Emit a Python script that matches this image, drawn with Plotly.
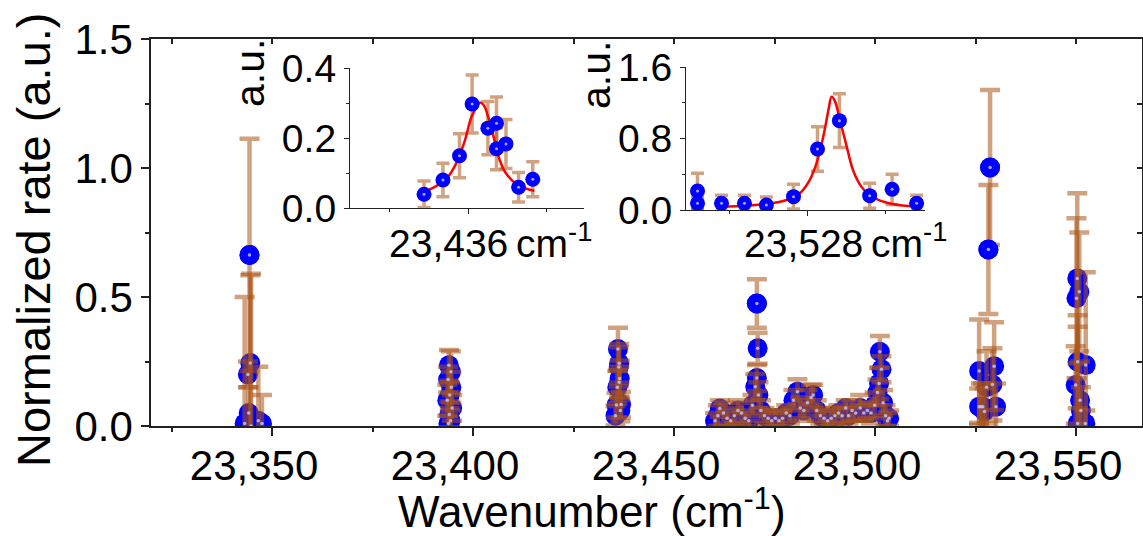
import plotly.graph_objects as go

# ---------------- data ----------------
# main panel clusters: wavenumber (cm-1), normalized rate, error
A_x = [23344.4, 23344.6, 23344.0, 23343.2, 23344.8, 23346.6, 23347.5, 23344.2]
A_y = [0.663, 0.244, 0.20, 0.01, 0.0, 0.02, 0.01, 0.05]
A_e = [0.45, 0.34, 0.05, 0.49, 0.59, 0.21, 0.11, 0.10]

B_x = [23394.0, 23394.5, 23393.8, 23394.6, 23394.2, 23393.6, 23394.8, 23394.1, 23394.4, 23393.9]
B_y = [0.235, 0.21, 0.18, 0.15, 0.12, 0.10, 0.07, 0.045, 0.02, 0.01]
B_e = [0.06, 0.08, 0.05, 0.06, 0.05, 0.06, 0.05, 0.05, 0.04, 0.03]

D_x = [23460.2, 23460.9, 23461.4, 23462.3, 23463.2, 23464.1, 23465.0, 23465.9, 23466.8,
       23467.7, 23468.6, 23469.5, 23470.2, 23470.6, 23470.8, 23470.6, 23471.0, 23471.6,
       23472.5, 23473.4, 23474.3, 23475.2, 23476.1, 23477.0, 23477.9, 23478.8, 23479.7,
       23480.7, 23481.4, 23482.3, 23483.2, 23484.1, 23484.6, 23485.5, 23486.4, 23487.3,
       23488.2, 23489.1, 23490.0, 23490.9, 23491.8, 23492.7, 23493.4, 23494.3, 23495.2,
       23496.3, 23497.2, 23498.1, 23499.0, 23499.9, 23500.6, 23501.0, 23501.2, 23501.6,
       23502.0, 23502.6, 23503.1, 23503.5]
D_y = [0.02, 0.04, 0.068, 0.05, 0.03, 0.02, 0.04, 0.06, 0.05,
       0.03, 0.02, 0.08, 0.152, 0.186, 0.301, 0.475, 0.12, 0.06,
       0.04, 0.03, 0.02, 0.03, 0.02, 0.03, 0.05, 0.04, 0.10,
       0.133, 0.07, 0.06, 0.09, 0.11, 0.12, 0.06, 0.04, 0.03,
       0.02, 0.03, 0.04, 0.05, 0.04, 0.07, 0.04, 0.06, 0.05,
       0.07, 0.05, 0.06, 0.05, 0.08, 0.13, 0.165, 0.288, 0.22,
       0.09, 0.04, 0.02, 0.03]
D_e = [0.03, 0.04, 0.032, 0.04, 0.03, 0.03, 0.03, 0.04, 0.04,
       0.03, 0.03, 0.04, 0.05, 0.05, 0.06, 0.094, 0.05, 0.04,
       0.03, 0.03, 0.03, 0.03, 0.03, 0.03, 0.03, 0.03, 0.04,
       0.048, 0.04, 0.04, 0.05, 0.05, 0.04, 0.04, 0.03, 0.03,
       0.03, 0.03, 0.03, 0.03, 0.03, 0.03, 0.03, 0.04, 0.03,
       0.05, 0.03, 0.03, 0.04, 0.05, 0.05, 0.06, 0.061, 0.05,
       0.05, 0.04, 0.03, 0.03]

F_x = [23550.3, 23550.1, 23550.8, 23550.4, 23552.4, 23549.9, 23551.0, 23550.4, 23552.3, 23551.2]
F_y = [0.572, 0.495, 0.52, 0.249, 0.236, 0.159, 0.10, 0.01, 0.01, 0.06]
F_e = [0.33, 0.31, 0.23, 0.18, 0.36, 0.15, 0.15, 0.375, 0.05, 0.09]

# inset 1 (23,436 cm-1 line)
I1_x = [23435.44, 23435.68, 23435.89, 23436.05, 23436.25, 23436.36, 23436.36, 23436.48, 23436.64, 23436.82]
I1_y = [0.040, 0.081, 0.150, 0.298, 0.229, 0.243, 0.170, 0.184, 0.060, 0.083]
I1_e = [0.038, 0.048, 0.063, 0.083, 0.076, 0.075, 0.060, 0.070, 0.042, 0.050]
FIT1_x = [23435.47, 23435.60, 23435.73, 23435.85, 23435.96, 23436.04, 23436.11, 23436.15,
          23436.20, 23436.25, 23436.32, 23436.40, 23436.48, 23436.61, 23436.74, 23436.84]
FIT1_y = [0.050, 0.064, 0.086, 0.129, 0.195, 0.260, 0.290, 0.302,
          0.294, 0.264, 0.207, 0.138, 0.100, 0.070, 0.056, 0.050]

# inset 2 (23,528 cm-1 line)
I2_x = [23525.89, 23525.89, 23526.35, 23526.79, 23527.21, 23527.73, 23528.19, 23528.61, 23529.19, 23529.62, 23530.09]
I2_y = [0.213, 0.075, 0.075, 0.075, 0.056, 0.150, 0.684, 1.002, 0.161, 0.232, 0.075]
I2_e = [0.20, 0.07, 0.09, 0.09, 0.09, 0.14, 0.25, 0.30, 0.14, 0.17, 0.09]
FIT2_x = [23526.32, 23526.83, 23527.21, 23527.60, 23527.85, 23528.04, 23528.17, 23528.30, 23528.40,
          23528.46, 23528.52, 23528.62, 23528.75, 23528.87, 23529.03, 23529.19, 23529.39, 23529.70, 23530.12]
FIT2_y = [0.037, 0.049, 0.067, 0.112, 0.187, 0.336, 0.523, 0.822, 1.121,
          1.271, 1.226, 1.009, 0.710, 0.449, 0.262, 0.168, 0.105, 0.060, 0.037]

X_TITLE = "Wavenumber (cm<sup>-1</sup>)"
Y_TITLE = "Normalized rate (a.u.)"
INSET1_LABEL = "23,436\u2009cm<sup>-1</sup>"
INSET2_LABEL = "23,528\u2009cm<sup>-1</sup>"

# ---------------- styling ----------------
FONT = "Liberation Sans, Arial, sans-serif"
BLUE = "#0000ff"
ERR = "rgba(172,86,24,0.55)"
HIGHLIGHT = "rgba(190,195,255,0.85)"
AX = "#222222"

main_x = A_x + B_x + I1_x + D_x + I2_x + F_x
main_y = A_y + B_y + I1_y + D_y + I2_y + F_y
main_e = A_e + B_e + I1_e + D_e + I2_e + F_e

# isolated points whose symbol sits above its own error bar (as in the reference)
iso_x = [A_x[0], D_x[15], I2_x[6], I2_x[7]]
iso_y = [A_y[0], D_y[15], I2_y[6], I2_y[7]]

fig = go.Figure()


def markers(xs, ys, xa, ya, size):
    fig.add_trace(go.Scatter(x=xs, y=ys, mode="markers", xaxis=xa, yaxis=ya,
                             marker=dict(size=size, color=BLUE, line=dict(width=0)),
                             hoverinfo="skip", showlegend=False))


def highlights(xs, ys, xa, ya, size):
    fig.add_trace(go.Scatter(x=xs, y=ys, mode="markers", xaxis=xa, yaxis=ya,
                             marker=dict(size=size, color=HIGHLIGHT, line=dict(width=0)),
                             hoverinfo="skip", showlegend=False))


def errors(xs, ys, es, xa, ya, thick, capw):
    fig.add_trace(go.Scatter(x=xs, y=ys, mode="markers", xaxis=xa, yaxis=ya,
                             marker=dict(size=1, color="rgba(0,0,0,0)"),
                             error_y=dict(type="data", array=es, visible=True, color=ERR,
                                          thickness=thick, width=capw),
                             hoverinfo="skip", showlegend=False))


# main panel: symbols, then semi-transparent error bars on top, then isolated symbols
markers(main_x, main_y, "x", "y", 20)
errors(main_x, main_y, main_e, "x", "y", 4.5, 10)
markers(iso_x, iso_y, "x", "y", 20)
highlights(main_x, main_y, "x", "y", 3.5)

# inset 1
errors(I1_x, I1_y, I1_e, "x2", "y2", 3.5, 6.5)
fig.add_trace(go.Scatter(x=FIT1_x, y=FIT1_y, mode="lines", xaxis="x2", yaxis="y2",
                         line=dict(color="#ff0000", width=2.5, shape="spline"),
                         hoverinfo="skip", showlegend=False))
markers(I1_x, I1_y, "x2", "y2", 15)
highlights(I1_x, I1_y, "x2", "y2", 3)

# inset 2
errors(I2_x, I2_y, I2_e, "x3", "y3", 3.5, 6.5)
fig.add_trace(go.Scatter(x=FIT2_x, y=FIT2_y, mode="lines", xaxis="x3", yaxis="y3",
                         line=dict(color="#ff0000", width=2.5, shape="spline"),
                         hoverinfo="skip", showlegend=False))
markers(I2_x, I2_y, "x3", "y3", 15)
highlights(I2_x, I2_y, "x3", "y3", 3)

# dummy trace for the mirrored (inside-tick) frame axes
fig.add_trace(go.Scatter(x=[None], y=[None], xaxis="x4", yaxis="y4", mode="markers",
                         hoverinfo="skip", showlegend=False))

XR = [23319.9, 23566.4]
YR = [0, 1.5]

common = dict(showgrid=False, zeroline=False, showline=True, linecolor=AX, tickcolor=AX)

fig.update_layout(
    width=1143, height=536,
    margin=dict(l=151, r=1, t=39, b=110),
    paper_bgcolor="white", plot_bgcolor="rgba(0,0,0,0)",
    font=dict(family=FONT, color="black"),
    xaxis=dict(domain=[0, 1], anchor="y", range=XR, tick0=0, dtick=50, tickformat=",d",
               ticks="outside", ticklen=8, tickwidth=1.5, linewidth=1.5,
               minor=dict(dtick=25, tick0=0, ticks="outside", ticklen=4, tickwidth=1.5, tickcolor=AX),
               tickfont=dict(size=42), ticklabelshift=-18, ticklabelstandoff=-6, **common),
    yaxis=dict(domain=[0, 1], anchor="x", range=YR, dtick=0.5, tickformat=".1f",
               ticks="outside", ticklen=8, tickwidth=1.5, linewidth=1.5,
               minor=dict(dtick=0.25, ticks="outside", ticklen=4, tickwidth=1.5, tickcolor=AX),
               tickfont=dict(size=42), **common),
    xaxis4=dict(overlaying="x", side="top", anchor="y4", range=XR, tick0=0, dtick=25,
                ticks="inside", ticklen=5, tickwidth=1.5, linewidth=1.5,
                showticklabels=False, **common),
    yaxis4=dict(overlaying="y", side="right", anchor="x4", range=YR, dtick=0.25,
                ticks="inside", ticklen=5, tickwidth=1.5, linewidth=1.5,
                showticklabels=False, **common),
    xaxis2=dict(domain=[0.2008, 0.4369], anchor="y2", range=[23434.5, 23437.47],
                tickvals=[23436], ticks="outside", ticklen=5, tickwidth=1.2, linewidth=1.2,
                minor=dict(dtick=1, tick0=23436, ticks="outside", ticklen=3, tickwidth=1.2, tickcolor=AX),
                showticklabels=False, **common),
    yaxis2=dict(domain=[0.5625, 0.9243], anchor="x2", range=[0, 0.4], dtick=0.2, tickformat=".1f",
                ticks="outside", ticklen=5, tickwidth=1.2, linewidth=1.2,
                minor=dict(dtick=0.1, ticks="outside", ticklen=3, tickwidth=1.2, tickcolor=AX),
                tickfont=dict(size=39), **common),
    xaxis3=dict(domain=[0.5399, 0.7810], anchor="y3", range=[23525.67, 23530.25],
                tickvals=[23528], ticks="outside", ticklen=5, tickwidth=1.2, linewidth=1.2,
                minor=dict(dtick=1.5, tick0=23528, ticks="outside", ticklen=3, tickwidth=1.2, tickcolor=AX),
                showticklabels=False, **common),
    yaxis3=dict(domain=[0.5581, 0.9269], anchor="x3", range=[0, 1.6], dtick=0.8, tickformat=".1f",
                ticks="outside", ticklen=5, tickwidth=1.2, linewidth=1.2,
                minor=dict(dtick=0.4, ticks="outside", ticklen=3, tickwidth=1.2, tickcolor=AX),
                tickfont=dict(size=39), **common),
)


def px2paper(px, py):
    return (px - 151) / 991.0, (426 - py) / 387.0


annots = [
    (Y_TITLE, 33, 240, 47, -90),
    (X_TITLE, 592, 508, 44, 0),
    ("a.u.", 250, 73, 41, -90),
    ("a.u.", 596, 75, 41, -90),
    (INSET1_LABEL, 490, 240, 39, 0),
    (INSET2_LABEL, 845, 240, 39, 0),
]
for text, px, py, size, ang in annots:
    ax_, ay_ = px2paper(px, py)
    fig.add_annotation(text=text, x=ax_, y=ay_, xref="paper", yref="paper",
                       xanchor="center", yanchor="middle", showarrow=False,
                       textangle=ang, font=dict(size=size, family=FONT, color="black"))

fig.write_html("out.html")
